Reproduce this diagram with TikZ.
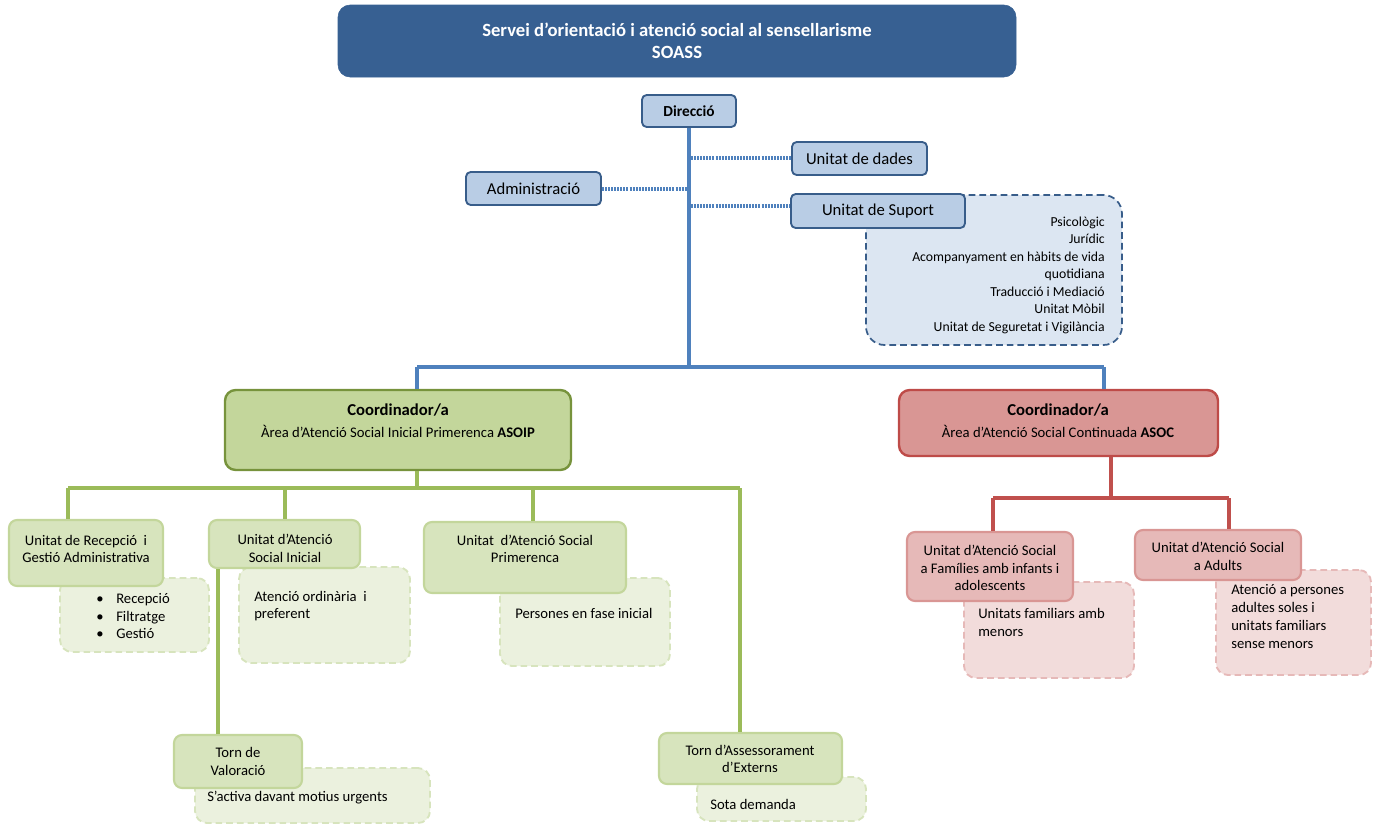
\documentclass[tikz,border=0pt]{standalone}
\usepackage{fontspec}
\setmainfont{Carlito}
\usetikzlibrary{fit}
\definecolor{hdr}{HTML}{376092}
\definecolor{bfill}{HTML}{B9CDE5}
\definecolor{bdraw}{HTML}{385D8A}
\definecolor{bline}{HTML}{4F81BD}
\definecolor{bpale}{HTML}{DCE6F2}
\definecolor{gcoord}{HTML}{C3D69B}
\definecolor{gcoordd}{HTML}{77933C}
\definecolor{gline}{HTML}{9BBB59}
\definecolor{gchild}{HTML}{D7E4BD}
\definecolor{gpale}{HTML}{EBF1DE}
\definecolor{rcoord}{HTML}{D99694}
\definecolor{rcoordd}{HTML}{BE4B48}
\definecolor{rline}{HTML}{C0504D}
\definecolor{rchild}{HTML}{E6B9B8}
\definecolor{rpale}{HTML}{F2DCDB}
\begin{document}
\begin{tikzpicture}[x=0.75pt,y=-0.75pt,
  hdrbox/.style={fill=hdr,draw=hdr,rounded corners=9pt,inner sep=0pt},
  bluebox/.style={fill=bfill,draw=bdraw,line width=1.4pt,rounded corners=3.5pt,inner sep=0pt},
  bluepale/.style={fill=bpale,draw=bdraw,line width=1.3pt,dash pattern=on 5pt off 3pt,rounded corners=14pt,inner sep=0pt},
  bluecon/.style={draw=bline,line width=2.3pt},
  dotcon/.style={draw=bline,line width=3pt,dash pattern=on 1.5pt off 0.8pt},
  gcoordbox/.style={fill=gcoord,draw=gcoordd,line width=1.8pt,rounded corners=8pt,inner sep=0pt},
  gchildbox/.style={fill=gchild,draw=gcoord,line width=1.6pt,rounded corners=6pt,inner sep=0pt},
  gpalebox/.style={fill=gpale,draw=gchild,line width=1.4pt,dash pattern=on 5pt off 3pt,rounded corners=9pt,inner sep=0pt},
  gcon/.style={draw=gline,line width=2.6pt},
  rcoordbox/.style={fill=rcoord,draw=rcoordd,line width=1.8pt,rounded corners=8pt,inner sep=0pt},
  rchildbox/.style={fill=rchild,draw=rcoord,line width=1.6pt,rounded corners=6pt,inner sep=0pt},
  rpalebox/.style={fill=rpale,draw=rchild,line width=1.4pt,dash pattern=on 5pt off 3pt,rounded corners=9pt,inner sep=0pt},
  rcon/.style={draw=rline,line width=2.6pt},
  txt/.style={inner sep=0pt,align=center,font=\fontsize{11}{13.3}\selectfont},
  ltxt/.style={inner sep=0pt,align=left,anchor=west,font=\fontsize{11}{13.3}\selectfont},
  rtxt/.style={inner sep=0pt,anchor=base east,font=\fontsize{10.3}{13.1}\selectfont},
  btxt/.style={inner sep=0pt,align=center,font=\fontsize{12.5}{14}\selectfont},
]
\useasboundingbox (0,0) rectangle (1375,825);

% ---------- header ----------
\node[hdrbox,fit={(338,5)(1016,77)}] (hdr) {};
\node[inner sep=0pt,align=center,text=white,font=\fontsize{14}{16.5}\selectfont\bfseries] (hdrT) at (hdr.center)
  {Servei d’orientació i atenció social al sensellarisme\\SOASS};

% ---------- connector joints (blue) ----------
\coordinate (bj) at (689,367);
\coordinate (bjA) at (417,367);
\coordinate (bjB) at (1104,367);
\coordinate (adj) at (689,189);
\coordinate (ddj) at (691,158);
\coordinate (spj) at (691,206);

% ---------- top boxes ----------
\node[bluepale,fit={(866,195)(1122,345)}] (suplist) {};
\node[rtxt] (sup1) at (1105,226) {Psicològic};
\node[rtxt] (sup2) at (1105,243.5) {Jurídic};
\node[rtxt] (sup3) at (1105,261) {Acompanyament en hàbits de vida};
\node[rtxt] (sup4) at (1105,278.5) {quotidiana};
\node[rtxt] (sup5) at (1105,296) {Traducció i Mediació};
\node[rtxt] (sup6) at (1105,313.5) {Unitat Mòbil};
\node[rtxt] (sup7) at (1105,331) {Unitat de Seguretat i Vigilància};

\node[bluebox,fit={(642,95)(736,127)}] (dir) {};
\node[inner sep=0pt,font=\fontsize{11.5}{13}\selectfont\bfseries] (dirT) at (dir.center) {Direcció};
\node[bluebox,fit={(792,142)(927,175)}] (dades) {};
\node[btxt] (dadesT) at (dades.center) {Unitat de dades};
\node[bluebox,fit={(466,172)(601,205)}] (admin) {};
\node[btxt] (adminT) at (admin.center) {Administració};
\node[bluebox,fit={(791,194)(965,228)}] (suport) {};
\node[btxt] (suportT) at (suport.center) {Unitat de Suport};

\draw[bluecon] (dir.south) -- (bj);
\draw[bluecon] (bjA) -- (bjB);
\draw[dotcon] (ddj) -- (ddj -| dades.west);
\draw[dotcon] (admin.east |- adj) -- (adj);
\draw[dotcon] (spj) -- (spj -| suport.west);

% ---------- coordinators ----------
\node[gcoordbox,fit={(225,390)(571,470)}] (coA) {};
\node[inner sep=0pt,align=center,font=\fontsize{11}{16.5}\selectfont] (coAT) at (398,421)
  {{\fontsize{12.5}{14}\selectfont\bfseries Coordinador/a}\\Àrea d’Atenció Social Inicial Primerenca \textbf{ASOIP}};
\node[rcoordbox,fit={(899,390)(1218,456)}] (coB) {};
\node[inner sep=0pt,align=center,font=\fontsize{11}{16.5}\selectfont] (coBT) at (1058,421)
  {{\fontsize{12.5}{14}\selectfont\bfseries Coordinador/a}\\Àrea d’Atenció Social Continuada \textbf{ASOC}};

\draw[bluecon] (bjA) -- (bjA |- coA.north);
\draw[bluecon] (bjB) -- (bjB |- coB.north);

% ---------- green children ----------
\node[gpalebox,fit={(60,578)(209,652)}] (recD) {};
\node[ltxt] (recDT) at (92,616)
  {\makebox[18pt][l]{\hspace{3pt}•}Recepció\\\makebox[18pt][l]{\hspace{3pt}•}Filtratge\\\makebox[18pt][l]{\hspace{3pt}•}Gestió};
\node[gchildbox,fit={(9,520)(163,586)}] (rec) {};
\node[txt] (recT) at (86,549) {Unitat de Recepció~ i\\Gestió Administrativa};

\node[gpalebox,fit={(239,567)(410,663)}] (iniD) {};
\node[ltxt] (iniDT) at (254,606) {Atenció ordinària~ i\\preferent};
\node[gchildbox,fit={(209,520)(360,568)}] (ini) {};
\node[txt] (iniT) at (285,548.5) {Unitat d’Atenció\\Social Inicial};

\node[gpalebox,fit={(500,578)(670,666)}] (priD) {};
\node[ltxt] (priDT) at (515,613) {Persones en fase inicial};
\node[gchildbox,fit={(424,522)(626,593)}] (pri) {};
\node[txt] (priT) at (525,549) {Unitat~ d’Atenció Social\\Primerenca};

\node[gpalebox,fit={(195,768)(430,823)}] (valD) {};
\node[ltxt] (valDT) at (207,798) {S’activa davant motius urgents};
\node[gchildbox,fit={(174,735)(302,788)}] (val) {};
\node[txt] (valT) at (238,761.5) {Torn de\\Valoració};

\node[gpalebox,fit={(697,777)(866,821)}] (extD) {};
\node[ltxt] (extDT) at (710,804) {Sota demanda};
\node[gchildbox,fit={(659,733)(842,784)}] (ext) {};
\node[txt] (extT) at (750,759) {Torn d’Assessorament\\d’Externs};

% green connectors
\coordinate (gj) at (417,488);
\coordinate (gL) at (68,488);
\coordinate (gR) at (740,488);
\coordinate (g2) at (285,488);
\coordinate (g3) at (533,488);
\coordinate (gv) at (218,600);
\draw[gcon] (coA.south -| gj) -- (gj);
\draw[gcon] (gL) -- (gR);
\draw[gcon] (gL) -- (gL |- rec.north);
\draw[gcon] (g2) -- (g2 |- ini.north);
\draw[gcon] (g3) -- (g3 |- pri.north);
\draw[gcon] (gR) -- (gR |- ext.north);
\draw[gcon] (gv |- ini.south) -- (gv |- val.north);

% ---------- red children ----------
\node[rpalebox,fit={(964,582)(1134,678)}] (famD) {};
\node[ltxt] (famDT) at (978,622.5) {Unitats familiars amb\\menors};
\node[rchildbox,fit={(907,532)(1073,601)}] (fam) {};
\node[txt] (famT) at (990,568) {Unitat d’Atenció Social\\a Famílies amb infants i\\adolescents};

\node[rpalebox,fit={(1216,570)(1371,675)}] (aduD) {};
\node[ltxt] (aduDT) at (1231,616.5) {Atenció a persones\\adultes soles i\\unitats familiars\\sense menors};
\node[rchildbox,fit={(1135,530)(1301,580)}] (adu) {};
\node[txt] (aduT) at (1218,556.5) {Unitat d’Atenció Social\\a Adults};

% red connectors
\coordinate (rj) at (1111,498);
\coordinate (rL) at (993,498);
\coordinate (rR) at (1229,498);
\draw[rcon] (coB.south -| rj) -- (rj);
\draw[rcon] (rL) -- (rR);
\draw[rcon] (rL) -- (rL |- fam.north);
\draw[rcon] (rR) -- (rR |- adu.north);
\end{tikzpicture}
\end{document}
